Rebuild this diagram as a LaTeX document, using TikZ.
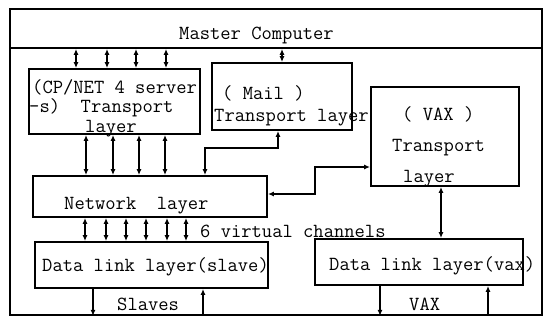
\documentclass[tikz,border=0pt]{standalone}
\usetikzlibrary{arrows.meta}
\tikzset{
  boxnode/.style={draw, rectangle, line width=1.9pt, inner sep=0pt},
  lbl/.style={anchor=base west, inner sep=0pt, font=\ttfamily\fontsize{20}{24}\selectfont},
  bilink/.style={line width=1.8pt, {Latex[length=6pt,width=5pt]}-{Latex[length=6pt,width=5pt]}},
  downlink/.style={line width=1.8pt, -{Latex[length=6pt,width=5pt]}},
}
\begin{document}
\begin{tikzpicture}[x=1pt,y=-1pt]
\useasboundingbox (0,0) rectangle (546,322);
% frame and header
\node[boxnode, minimum width=532pt, minimum height=306pt] (frame) at (276,162) {};
\node[boxnode, minimum width=532pt, minimum height=39pt] (master) at (276,28.5) {};
\node[lbl] (mtext) at (179,39) {Master Computer};
% boxes
\node[boxnode, minimum width=171pt, minimum height=65pt] (cp) at (114.5,101.5) {};
\node[boxnode, minimum width=140pt, minimum height=67pt] (mail) at (282,96.5) {};
\node[boxnode, minimum width=148pt, minimum height=99pt] (vax) at (445,136.5) {};
\node[boxnode, minimum width=234pt, minimum height=41pt] (net) at (150,196.5) {};
\node[boxnode, minimum width=233pt, minimum height=46pt] (dls) at (151.5,265) {};
\node[boxnode, minimum width=208pt, minimum height=46pt] (dlv) at (419,262) {};
% texts
\node[lbl] (cp1) at (32,93) {(CP/NET 4 server};
\node[lbl] (cp2) at (29,112) {-s)\ \ Transport};
\node[lbl] (cp3) at (85,132) {layer};
\node[lbl] (ml1) at (222,99) {( Mail )};
\node[lbl] (ml2) at (214,121) {Transport layer};
\node[lbl] (vx1) at (402,120) {( VAX )};
\node[lbl] (vx2) at (392,151) {Transport};
\node[lbl] (vx3) at (403,182) {layer};
\node[lbl] (nt) at (64,209) {Network\ \ layer};
\node[lbl] (vc) at (200,237) {6 virtual channels};
\node[lbl] (ds) at (42,271) {Data link layer(slave)};
\node[lbl] (dv) at (329,270) {Data link layer(vax)};
\node[lbl] (sl) at (117,310) {Slaves};
\node[lbl] (vb) at (409,310) {VAX};
% master to transport layers
\foreach \x in {76,107,136,166}
  \draw[bilink] (master.south -| \x,0) -- (cp.north -| \x,0);
\draw[bilink] (master.south -| 282,0) -- (mail.north -| 282,0);
% transport to network
\foreach \x in {86,113,139,165}
  \draw[bilink] (cp.south -| \x,0) -- (net.north -| \x,0);
\draw[bilink] (mail.south -| 278,0) -- (278,148) -- (205,148) -- (net.north -| 205,0);
\draw[bilink] (net.east |- 0,194) -- (315,194) -- (315,167) -- (vax.west |- 0,167);
\draw[bilink] (vax.south -| 441,0) -- (dlv.north -| 441,0);
% virtual channels
\foreach \x in {85,106,126,146,167,186}
  \draw[bilink] (net.south -| \x,0) -- (dls.north -| \x,0);
% outputs
\draw[downlink] (dls.south -| 93,0) -- (frame.south -| 93,0);
\draw[downlink] (frame.south -| 203,0) -- (dls.south -| 203,0);
\draw[downlink] (dlv.south -| 380,0) -- (frame.south -| 380,0);
\draw[downlink] (frame.south -| 488,0) -- (dlv.south -| 488,0);
\end{tikzpicture}
\end{document}
